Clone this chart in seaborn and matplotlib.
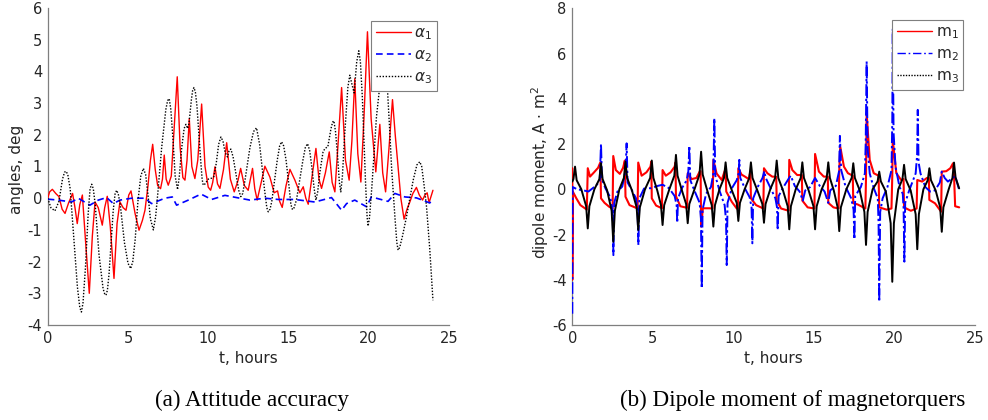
import numpy as np
import pandas as pd
import matplotlib
matplotlib.use("Agg")
import matplotlib.pyplot as plt
import seaborn as sns

# ---------------- (a) attitude angles, deg ----------------
t_a1 = [0.0, 0.12, 0.29, 0.5, 0.7, 0.9, 1.08, 1.3, 1.55, 1.7, 1.84, 2.0, 2.16, 2.35, 2.59,
        2.78, 2.95, 3.15, 3.4, 3.55, 3.71, 3.9, 4.13, 4.32, 4.5, 4.7, 4.88, 5.05, 5.19,
        5.45, 5.69, 5.9, 6.06, 6.25, 6.4, 6.54, 6.7, 6.85, 7.03, 7.15, 7.26, 7.38, 7.51,
        7.7, 7.9, 8.07, 8.25, 8.42, 8.55, 8.68, 8.82, 8.98, 9.17, 9.35, 9.59, 9.8, 10.0,
        10.15, 10.28, 10.42, 10.58, 10.73, 10.95, 11.15, 11.38, 11.62, 11.85, 12.02,
        12.25, 12.49, 12.76, 12.9, 13.05, 13.3, 13.53, 13.84, 14.11, 14.32, 14.45, 14.61,
        14.85, 15.09, 15.4, 15.71, 15.92, 16.08, 16.23, 16.5, 16.71, 16.9, 17.06, 17.3,
        17.54, 17.72, 17.89, 18.1, 18.31, 18.55, 18.78, 18.95, 19.13, 19.32, 19.51, 19.7,
        19.92, 20.15, 20.44, 20.55, 20.69, 20.87, 21.05, 21.25, 21.48, 21.65, 21.83, 22.0,
        22.2, 22.38, 22.56, 22.75, 22.97, 23.15, 23.35, 23.5, 23.64, 23.76, 23.88, 24.0]
alpha1 = [0.0, 0.2, 0.28, 0.15, 0.05, -0.35, -0.48, -0.15, 0.15, -0.3, -0.8, -0.2, 0.1,
          -1.3, -3.0, -1.2, -0.12, -0.3, -0.85, -0.3, 0.06, -0.9, -2.53, -0.8, -0.12, -0.3,
          -0.38, 0.1, 0.23, -0.5, -1.01, -0.7, -0.38, 0.4, 1.2, 1.7, 0.9, 0.4, 0.3, 0.6,
          1.36, 0.6, 0.41, 0.7, 2.4, 3.83, 1.6, 0.65, 0.57, 1.2, 2.51, 1.0, 0.62, 1.2, 2.97,
          1.0, 0.35, 0.25, 0.5, 0.99, 0.45, 0.31, 0.9, 1.75, 0.6, 0.2, 0.55, 0.94, 0.4,
          0.25, 0.94, 0.3, -0.06, 0.5, 1.01, 0.67, 0.17, 0.23, -0.1, -0.29, 0.4, 0.91, 0.57,
          0.17, 0.36, 0.0, -0.19, 0.8, 1.57, 0.6, 0.31, 0.8, 1.46, 0.5, 0.2, 1.8, 3.49, 1.2,
          0.57, 1.8, 3.77, 1.4, 0.51, 2.5, 5.25, 2.5, 0.83, 1.5, 2.33, 0.8, 0.2, 1.5, 3.11,
          2.0, 0.99, 0.0, -0.66, -0.35, -0.12, 0.15, 0.34, 0.1, -0.06, 0.1, 0.17, -0.14,
          0.05, 0.25]

t_a2 = [0.0, 0.66, 1.49, 1.9, 2.63, 3.15, 3.67, 4.09, 4.5, 5.23, 6.06, 6.47, 7.3, 7.76,
        8.03, 8.76, 9.55, 10.21, 11.04, 11.87, 12.6, 13.53, 14.36, 15.4, 16.64, 17.68,
        18.31, 18.62, 19.13, 19.86, 20.17, 21.2, 21.63, 22.25, 22.97, 23.8, 24.0]
alpha2 = [-0.03, -0.06, -0.12, 0.0, -0.22, -0.06, 0.02, -0.17, -0.06, 0.0, 0.0, -0.17,
          0.0, 0.04, -0.22, -0.06, 0.13, -0.04, 0.09, 0.01, -0.06, 0.0, -0.04, -0.04,
          -0.12, 0.02, -0.38, -0.17, -0.06, -0.27, 0.04, -0.1, 0.15, 0.04, 0.01, -0.15,
          -0.04]

t_a3 = [0.0, 0.2, 0.45, 0.7, 0.92, 1.05, 1.14, 1.25, 1.4, 1.62, 1.85, 2.0, 2.1, 2.2, 2.35,
        2.52, 2.64, 2.74, 2.84, 2.96, 3.2, 3.45, 3.55, 3.63, 3.72, 3.82, 4.08, 4.2, 4.3,
        4.4, 4.52, 4.78, 5.0, 5.17, 5.3, 5.45, 5.62, 5.8, 5.96, 6.1, 6.25, 6.4, 6.58, 6.72,
        6.85, 7.1, 7.36, 7.47, 7.57, 7.67, 7.8, 7.94, 8.09, 8.2, 8.35, 8.5, 8.61, 8.72, 8.8,
        8.95, 9.03, 9.11, 9.2, 9.3, 9.5, 9.62, 9.69, 9.8, 10.0, 10.2, 10.35, 10.5, 10.65,
        10.79, 10.92, 11.05, 11.2, 11.3, 11.41, 11.55, 11.75, 11.9, 12.03, 12.15, 12.3,
        12.6, 12.82, 13.01, 13.2, 13.5, 13.65, 13.74, 13.85, 13.96, 14.3, 14.45, 14.57,
        14.7, 14.85, 15.05, 15.15, 15.25, 15.35, 15.5, 15.9, 16.05, 16.19, 16.32, 16.45,
        16.6, 16.71, 16.82, 16.95, 17.15, 17.27, 17.45, 17.65, 17.75, 17.83, 17.93, 18.05,
        18.17, 18.26, 18.36, 18.5, 18.7, 18.82, 18.95, 19.09, 19.25, 19.38, 19.48, 19.6,
        19.8, 19.9, 19.96, 20.05, 20.2, 20.48, 20.7, 20.9, 21.05, 21.17, 21.3, 21.42,
        21.63, 21.75, 21.83, 21.93, 22.1, 22.35, 22.77, 23.0, 23.18, 23.3, 23.45, 23.6,
        23.8, 24.0]
alpha3 = [0.0, -0.3, -0.4, -0.1, 0.6, 0.82, 0.85, 0.75, 0.3, -1.2, -2.8, -3.45, -3.59,
          -3.3, -2.2, -0.5, 0.3, 0.44, 0.3, -0.2, -1.8, -2.85, -3.02, -3.06, -2.9, -2.4,
          -0.4, 0.15, 0.25, 0.12, -0.2, -1.4, -2.05, -2.22, -2.0, -1.3, -0.1, 0.7, 0.94,
          0.75, 0.1, -0.65, -1.0, -0.6, 0.1, 1.6, 2.8, 3.08, 3.14, 2.8, 1.9, 0.7, 0.27, 0.7,
          1.6, 2.2, 2.33, 2.2, 2.35, 3.1, 3.4, 3.49, 3.35, 2.9, 1.4, 0.6, 0.41, 0.45, 0.6,
          0.63, 0.68, 1.1, 1.7, 1.93, 1.8, 1.45, 1.3, 1.5, 1.55, 1.3, 0.7, 0.25, 0.05, 0.15,
          0.6, 1.6, 2.1, 2.22, 1.7, 0.3, -0.3, -0.43, -0.35, -0.1, 1.2, 1.65, 1.78, 1.65,
          1.2, 0.3, -0.2, -0.36, -0.3, -0.05, 1.2, 1.6, 1.72, 1.5, 1.0, 0.3, -0.06, 0.2, 0.8,
          1.45, 1.57, 1.62, 2.2, 2.4, 2.44, 2.1, 1.4, 0.5, 0.2, 0.7, 2.0, 3.5, 3.88, 3.6,
          3.32, 4.3, 4.65, 4.3, 3.2, 0.5, -0.6, -0.88, -0.6, 0.4, 2.56, 3.6, 4.1, 3.9, 3.4,
          2.2, 0.99, -0.59, -1.4, -1.64, -1.55, -1.2, -0.59, 0.57, 1.05, 1.15, 1.0, 0.4,
          -0.27, -1.6, -3.22]

# ---------------- (b) magnetorquer dipole moment, A*m^2 ----------------
t_m1 = [0.0, 0.0, 0.03, 0.25, 0.5, 0.9,
        0.96, 1.1, 1.35, 1.6, 1.74, 1.78, 2.0, 2.3, 2.5,
        2.54, 2.7, 2.95, 3.15, 3.26, 3.3, 3.55, 4.05,
        4.09, 4.3, 4.6, 4.85, 4.9, 4.93, 5.2, 5.56,
        5.6, 5.8, 6.1, 6.35, 6.4, 6.43, 6.7, 7.12,
        7.16, 7.4, 7.7, 7.9, 7.96, 7.99, 8.1, 8.5, 8.7,
        8.75, 8.95, 9.27, 9.45, 9.51, 9.55, 9.89, 10.2, 10.27,
        10.3, 10.5, 10.71, 10.95, 11.05, 11.08, 11.4, 11.85,
        11.89, 12.1, 12.4, 12.65, 12.68, 12.95, 13.42,
        13.46, 13.65, 13.95, 14.24, 14.27, 14.6, 15.02,
        15.06, 15.3, 15.6, 15.85, 15.88, 16.2, 16.52,
        16.56, 16.62, 16.85, 17.1, 17.4, 17.43, 17.7, 18.18,
        18.22, 18.26, 18.45, 18.7, 19.0, 19.04, 19.5, 19.8,
        19.85, 19.88, 20.1, 20.4, 20.55, 20.58, 21.0, 21.36,
        21.4, 21.7, 22.0, 22.12, 22.15, 22.5, 22.88,
        22.92, 23.2, 23.45, 23.62, 23.68, 23.75, 24.0]
m1 = [0.93, -4.0, -0.1, -0.4, -0.7, -0.9,
      0.93, 0.56, 0.75, 0.95, 1.19, -0.4, -0.6, -0.78, -0.85,
      1.47, 0.85, 0.68, 0.95, 1.27, -0.33, -0.7, -0.85,
      1.18, 0.6, 0.75, 1.0, 1.22, -0.4, -0.72, -0.84,
      0.85, 0.6, 0.75, 1.0, 1.18, -0.3, -0.75, -0.82,
      0.71, 0.45, 0.5, 0.78, 0.8, -1.65, -0.84, -0.84, -0.85,
      1.3, 0.7, 0.41, 0.8, 0.85, -0.1, -0.55, -0.85, -0.85,
      0.93, 0.65, 0.56, 0.45, 0.8, -0.4, -0.7, -0.85,
      0.93, 0.71, 0.56, 0.55, -0.5, -0.85, -0.95,
      1.3, 0.85, 0.63, 0.63, -0.5, -0.8, -0.85,
      1.56, 0.78, 0.56, 0.56, -0.6, -0.8, -0.85,
      0.8, 1.89, 1.0, 0.71, 0.6, -0.62, -0.67, -0.85,
      0.5, 3.36, 1.3, 0.71, 0.6, -0.8, -0.9, -0.85,
      0.6, 2.18, 0.71, 0.41, 0.45, -0.8, -0.95, -0.85,
      0.41, 0.34, 0.5, 0.5, -0.47, -0.62, -0.99,
      0.78, 0.8, 0.93, 1.15, 0.6, -0.75, -0.8]

t_m2 = [0.0, 0.02, 0.3, 0.7, 1.0, 1.4, 1.7, 1.78, 1.84, 2.05, 2.35, 2.5, 2.55, 2.6, 2.8,
        3.1, 3.3, 3.37, 3.43, 3.7, 3.95, 4.05, 4.1, 4.16, 4.45, 4.9, 5.3, 5.6, 6.0, 6.35,
        6.47, 6.51, 6.56, 6.8, 7.1, 7.2, 7.26, 7.32, 7.6, 7.9, 7.98, 8.03, 8.08, 8.3,
        8.6, 8.75, 8.81, 8.87, 9.15, 9.45, 9.54, 9.58, 9.63, 9.9, 10.2, 10.32, 10.36,
        10.42, 10.7, 11.0, 11.12, 11.17, 11.22, 11.5, 11.8, 11.91, 12.0, 12.3, 12.6,
        12.7, 12.74, 12.8, 13.1, 13.45, 13.55, 13.8, 14.1, 14.3, 14.45, 14.75, 15.06,
        15.35, 15.65, 15.88, 16.0, 16.35, 16.55, 16.6, 16.68, 16.95, 17.3, 17.45, 17.5,
        17.55, 17.9, 18.15, 18.2, 18.26, 18.32, 18.45, 18.7, 18.95, 19.0, 19.04, 19.1,
        19.25, 19.55, 19.8, 19.85, 19.88, 19.93, 20.05, 20.3, 20.5, 20.55, 20.6, 20.65,
        20.9, 21.3, 21.39, 21.43, 21.48, 21.6, 21.9, 22.2, 22.5, 22.8, 22.92, 23.1,
        23.3, 23.6, 23.75, 24.0]
m2 = [-5.5, 0.1, 0.0, -0.05, -0.1, 0.12, 0.34, 2.0, 0.45, 0.05, -0.35, -0.9, -2.91, -0.6,
      -0.1, 0.12, 0.8, 2.03, 0.3, -0.05, -0.4, -1.0, -2.46, -0.4, 0.03, 0.05, 0.15, 0.2,
      0.05, -0.3, -0.7, -1.48, -0.4, 0.05, 0.4, 0.8, 1.92, 0.4, -0.1, -0.6, -1.3, -4.38,
      -0.9, -0.2, 0.1, 0.7, 3.14, 0.6, -0.1, -0.7, -1.4, -3.35, -0.6, 0.05, 0.4, 0.7,
      1.3, 0.5, 0.05, -0.35, -0.8, -2.39, -0.4, 0.1, 0.5, 0.8, 0.5, 0.05, -0.4, -0.8,
      -1.8, -0.3, 0.1, 0.5, 0.6, 0.15, -0.1, -0.5, -0.05, 0.1, 0.5, 0.15, -0.1, -0.6,
      -0.05, 0.15, 0.8, 2.36, 0.85, 0.12, -0.4, -0.9, -2.21, -0.3, 0.1, 0.7, 2.0, 5.65,
      1.8, 0.7, 0.05, -0.4, -1.5, -4.97, -1.0, -0.4, 0.1, 0.85, 3.0, 7.08, 2.5, 1.0,
      0.1, -0.2, -0.8, -3.2, -0.6, -0.05, 0.7, 1.5, 3.51, 1.2, 0.7, 0.1, -0.1, -0.05,
      0.3, 0.78, 0.5, 0.34, 0.5, 0.6, -0.03]

t_m3 = [0.0, 0.07, 0.17,
        0.27, 0.56, 0.86, 0.96, 1.06, 1.37, 1.68, 1.78,
        1.88, 2.16, 2.44, 2.54, 2.64, 2.92, 3.2, 3.3,
        3.4, 3.7, 3.99, 4.09, 4.19, 4.51, 4.83, 4.93,
        5.03, 5.27, 5.5, 5.6, 5.7, 6.02, 6.33, 6.43,
        6.53, 6.8, 7.06, 7.16, 7.26, 7.58, 7.89, 7.99,
        8.09, 8.37, 8.65, 8.75, 8.85, 9.13, 9.41, 9.51,
        9.61, 9.9, 10.2, 10.3, 10.4, 10.69, 10.98, 11.08,
        11.18, 11.48, 11.79, 11.89, 11.99, 12.28, 12.58, 12.68,
        12.78, 13.07, 13.36, 13.46, 13.56, 13.86, 14.17, 14.27,
        14.37, 14.66, 14.96, 15.06, 15.16, 15.47, 15.78, 15.88,
        15.98, 16.22, 16.46, 16.56, 16.66, 17.0, 17.33, 17.43,
        17.53, 17.83, 18.12, 18.22, 18.32, 18.63, 18.94, 19.04,
        19.14, 19.45, 19.75, 19.85, 19.95, 20.22, 20.48, 20.58,
        20.68, 20.99, 21.3, 21.4, 21.5, 21.78, 22.05, 22.15,
        22.25, 22.54, 22.82, 22.92, 23.02, 23.35, 23.58, 23.68,
        23.78, 24.0]
m3 = [0.34, 0.45, 1.0,
      0.4, 0.0, -0.75, -1.73, -0.75, 0.0, 0.45, 1.15,
      0.45, -0.05, -0.95, -2.32, -0.95, 0.0, 0.5, 1.22,
      0.5, -0.05, -0.8, -1.8, -0.8, 0.0, 0.5, 1.27,
      0.5, -0.05, -0.7, -1.58, -0.7, 0.0, 0.6, 1.52,
      0.6, -0.05, -0.65, -1.5, -0.65, 0.0, 0.65, 1.66,
      0.65, -0.05, -0.7, -1.65, -0.7, 0.0, 0.5, 1.19,
      0.5, -0.05, -0.6, -1.4, -0.6, 0.0, 0.5, 1.19,
      0.5, -0.05, -0.65, -1.48, -0.65, 0.0, 0.5, 1.27,
      0.5, -0.05, -0.75, -1.77, -0.75, 0.0, 0.5, 1.19,
      0.5, -0.05, -0.75, -1.77, -0.75, 0.0, 0.5, 1.19,
      0.5, -0.05, -0.8, -1.85, -0.8, 0.0, 0.5, 1.15,
      0.5, -0.05, -1.0, -2.46, -1.0, 0.0, 0.35, 0.78,
      0.35, -0.1, -1.5, -4.09, -1.5, 0.0, 0.45, 1.08,
      0.45, -0.05, -1.1, -2.65, -1.1, 0.0, 0.4, 0.93,
      0.4, -0.05, -0.8, -1.88, -0.8, 0.0, 0.5, 1.18,
      0.5, 0.04]

# ---------------- styling ----------------
sns.set_theme(style="white")
plt.rcParams["font.family"] = ["DejaVu Sans"]
plt.rcParams["mathtext.fontset"] = "dejavusans"
TXT = "#262626"
SPINE = "#7f7f7f"

fig = plt.figure(figsize=(9.88, 4.2), dpi=100)
W, H = 988.0, 420.0
ax1 = fig.add_axes([47.7 / W, 1 - 325 / H, 401.3 / W, 317 / H])
ax2 = fig.add_axes([572.3 / W, 1 - 325 / H, 403 / W, 316.7 / H])


def draw(ax, t, v, **kw):
    df = pd.DataFrame({"t": t, "v": v})
    sns.lineplot(data=df, x="t", y="v", ax=ax, estimator=None, sort=False,
                 zorder=3, **kw)


draw(ax1, t_a1, alpha1, color="#ff0000", lw=1.0, label=r"$\alpha_1$")
draw(ax1, t_a2, alpha2, color="#0000ff", lw=1.2, linestyle=(0, (4, 2.5)), label=r"$\alpha_2$")
draw(ax1, t_a3, alpha3, color="#000000", lw=1.0, linestyle=(0, (1, 1.2)), label=r"$\alpha_3$")

# dense sampled traces: the dotted m3 and dash-dot m2 read almost solid
draw(ax2, t_m1, m1, color="#ff0000", lw=1.5, label=r"m$_1$")
draw(ax2, t_m2, m2, color="#0000ff", lw=1.4, linestyle=(0, (6, 1.5, 1.2, 1.5)), label=r"m$_2$")
draw(ax2, t_m3, m3, color="#000000", lw=1.4, label=r"m$_3$")

for ax, ylim, yt in [(ax1, (-4, 6), np.arange(-4, 7, 1)), (ax2, (-6, 8), np.arange(-6, 9, 2))]:
    ax.set_xlim(0, 25)
    ax.set_ylim(*ylim)
    ax.set_xticks(np.arange(0, 26, 5))
    ax.set_yticks(yt)
    ax.set_yticklabels([str(int(v)) for v in yt])
    for s in ["top", "right"]:
        ax.spines[s].set_visible(False)
    for s in ["left", "bottom"]:
        ax.spines[s].set_color(SPINE)
        ax.spines[s].set_linewidth(0.9)
    ax.tick_params(direction="in", length=4, width=0.8, color=SPINE,
                   labelsize=10.5, labelcolor=TXT, pad=4)
    ax.set_xlabel("t, hours", fontsize=11, color=TXT)
    ax.xaxis.set_label_coords(0.5, -0.105)
    ax.xaxis.label.set_va("center")

ax1.set_ylabel("angles, deg", fontsize=11, color=TXT)
ax1.yaxis.set_label_coords((16 - 47.7) / 401.3, 0.49)
ax1.yaxis.label.set_va("center")
ax2.set_ylabel(r"dipole moment, A $\cdot$ m$^2$", fontsize=11, color=TXT)
ax2.yaxis.set_label_coords((540 - 572.3) / 403, 0.48)
ax2.yaxis.label.set_va("center")

legend_styles = {ax1: None, ax2: [None, (0, (6, 2, 1.2, 2)), (0, (1, 1))]}
for ax, anchor in [(ax1, ((437 - 47.7) / 401.3, (325 - 21) / 317)),
                   (ax2, ((963 - 572.3) / 403, (325 - 20) / 316.7))]:
    leg = ax.legend(loc="upper right", bbox_to_anchor=anchor, borderaxespad=0,
                    fontsize=11, frameon=True, fancybox=False, framealpha=1,
                    handlelength=2.3, handletextpad=0.25, labelspacing=0.35,
                    borderpad=0.3)
    leg.get_frame().set_edgecolor(SPINE)
    leg.get_frame().set_linewidth(0.8)
    leg.set_zorder(5)
    for txt in leg.get_texts():
        txt.set_color(TXT)
    styles = legend_styles[ax]
    if styles:
        for line, ls in zip(leg.get_lines(), styles):
            line.set_linewidth(1.0)
            if ls is not None:
                line.set_linestyle(ls)

fig.text(252 / W, 1 - 400 / H, "(a) Attitude accuracy", ha="center", va="center",
         fontsize=16.7, family="Liberation Serif", color="black")
fig.text(793 / W, 1 - 400 / H, "(b) Dipole moment of magnetorquers", ha="center",
         va="center", fontsize=16.7, family="Liberation Serif", color="black")

fig.savefig("out.png", dpi=100)
